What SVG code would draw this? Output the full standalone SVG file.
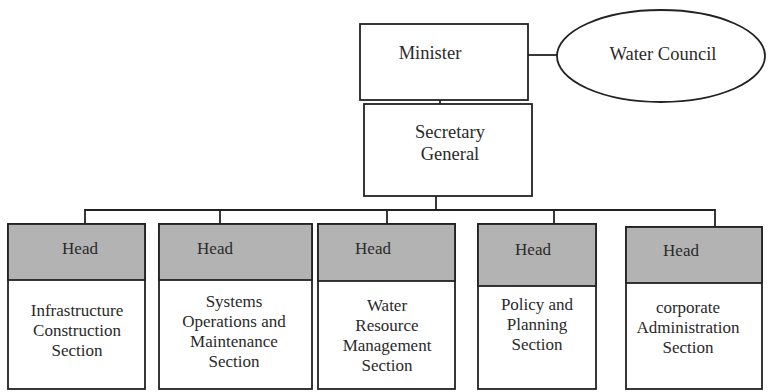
<svg xmlns="http://www.w3.org/2000/svg" width="768" height="392" viewBox="0 0 768 392">
  <style>
    .box { fill: #ffffff; stroke: #222222; stroke-width: 1.8; }
    .head { fill: #b3b3b3; stroke: #222222; stroke-width: 1.8; }
    .line { fill: none; stroke: #222222; stroke-width: 1.8; }
    text { fill: #2a2a2a; text-anchor: middle; }
    .big { font-size: 18.5px; }
    .small { font-size: 17px; }
  </style>
  <rect width="768" height="392" fill="#ffffff"/>

  <!-- connectors -->
  <g id="connectors">
    <line class="line" x1="528" y1="55" x2="557" y2="55"/>
    <line class="line" x1="440" y1="91" x2="440" y2="104"/>
    <line class="line" x1="436" y1="188" x2="436" y2="210"/>
    <polyline class="line" points="85,224 85,210 715,210 715,227"/>
    <line class="line" x1="220" y1="210" x2="220" y2="224"/>
    <line class="line" x1="387" y1="210" x2="387" y2="224"/>
    <line class="line" x1="554" y1="210" x2="554" y2="224"/>
  </g>

  <g font-family="Liberation Serif, DejaVu Serif, serif">
  <g id="minister">
    <rect class="box" x="360" y="24" width="168" height="76"/>
    <text class="big" x="430" y="59">Minister</text>
  </g>

  <g id="water-council">
    <ellipse class="box" cx="661" cy="56" rx="104" ry="46"/>
    <text class="big" x="663" y="60">Water Council</text>
  </g>

  <g id="secretary-general">
    <rect class="box" x="364" y="104" width="168" height="92"/>
    <text class="big" x="450" y="138">Secretary</text>
    <text class="big" x="450" y="160">General</text>
  </g>

  <g id="infrastructure">
    <rect class="box" x="8" y="224" width="137" height="165"/>
    <rect class="head" x="8" y="224" width="137" height="56"/>
    <text class="small" x="80" y="254">Head</text>
    <text class="small" x="77" y="316">Infrastructure</text>
    <text class="small" x="77" y="336">Construction</text>
    <text class="small" x="77" y="356">Section</text>
  </g>

  <g id="systems-operations">
    <rect class="box" x="159" y="224" width="153" height="165"/>
    <rect class="head" x="159" y="224" width="153" height="56"/>
    <text class="small" x="215" y="254">Head</text>
    <text class="small" x="234" y="307">Systems</text>
    <text class="small" x="234" y="327">Operations and</text>
    <text class="small" x="234" y="347">Maintenance</text>
    <text class="small" x="234" y="367">Section</text>
  </g>

  <g id="water-resource">
    <rect class="box" x="318" y="224" width="137" height="165"/>
    <rect class="head" x="318" y="224" width="137" height="57"/>
    <text class="small" x="373" y="254">Head</text>
    <text class="small" x="387" y="311">Water</text>
    <text class="small" x="387" y="331">Resource</text>
    <text class="small" x="387" y="351">Management</text>
    <text class="small" x="387" y="371">Section</text>
  </g>

  <g id="policy-planning">
    <rect class="box" x="478" y="224" width="118" height="165"/>
    <rect class="head" x="478" y="224" width="118" height="62"/>
    <text class="small" x="533" y="255">Head</text>
    <text class="small" x="537" y="310">Policy and</text>
    <text class="small" x="537" y="330">Planning</text>
    <text class="small" x="537" y="350">Section</text>
  </g>

  <g id="corporate-administration">
    <rect class="box" x="626" y="227" width="136" height="162"/>
    <rect class="head" x="626" y="227" width="136" height="56"/>
    <text class="small" x="681" y="256">Head</text>
    <text class="small" x="688" y="313">corporate</text>
    <text class="small" x="688" y="333">Administration</text>
    <text class="small" x="688" y="353">Section</text>
  </g>
  </g>
</svg>
